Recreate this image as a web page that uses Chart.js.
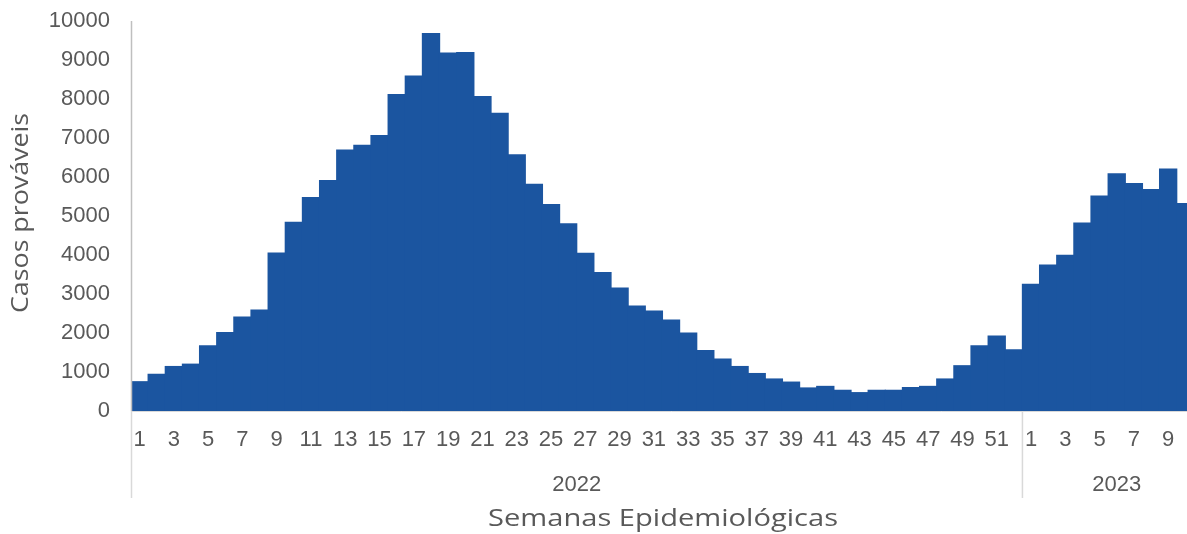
<!DOCTYPE html>
<html>
<head>
<meta charset="utf-8">
<script src="https://cdn.jsdelivr.net/npm/chart.js@4.4.1/dist/chart.umd.min.js"></script>
<style>
  html, body { margin: 0; padding: 0; background: #ffffff; overflow: hidden; width: 1187px; height: 534px; }
  #wrap { position: absolute; left: 0; top: 0; width: 1230px; height: 534px; }
  canvas { display: block; }
</style>
</head>
<body>
<div id="wrap"><canvas id="c" width="1230" height="534" style="width:1230px;height:534px"></canvas></div>
<script>
// ---- data ----
const weeks2022 = [1,2,3,4,5,6,7,8,9,10,11,12,13,14,15,16,17,18,19,20,21,22,23,24,25,26,
                   27,28,29,30,31,32,33,34,35,36,37,38,39,40,41,42,43,44,45,46,47,48,49,50,51,52];
const cases2022 = [750, 940, 1140, 1200, 1670, 2010, 2410, 2590, 4050, 4840, 5470, 5910, 6690,
                   6810, 7060, 8110, 8590, 9680, 9180, 9190, 8060, 7630, 6570, 5810, 5290, 4800,
                   4040, 3550, 3150, 2690, 2560, 2330, 2000, 1550, 1330, 1140, 960, 820, 740,
                   590, 630, 530, 470, 530, 530, 600, 630, 820, 1160, 1670, 1920, 1570];
const weeks2023 = [1,2,3,4,5,6,7,8,9,10,11];
const cases2023 = [3250, 3740, 3990, 4820, 5510, 6080, 5830, 5680, 6200, 5320, null];
const yearLabels = ["2022", "2023"];
const yTicks = [0,1000,2000,3000,4000,5000,6000,7000,8000,9000,10000];
const yTitle = "Casos prováveis";
const xTitle = "Semanas Epidemiológicas";

// ---- build ----
const labels = weeks2022.concat(weeks2023);
const values = cases2022.concat(cases2023);
const groups = [
  { label: yearLabels[0], start: 0, end: weeks2022.length - 1 },
  { label: yearLabels[1], start: weeks2022.length, end: weeks2022.length + weeks2023.length - 1 }
];

const TEXT = '#595959';
const TICK_FONT = { family: 'Liberation Sans, Arial, sans-serif', size: 22 };

function drawFitted(ctx, text, cx, cy, target) {
  const w = ctx.measureText(text).width;
  const sx = target / w;
  ctx.save();
  ctx.translate(cx, cy);
  ctx.scale(sx, 1);
  ctx.fillText(text, 0, 0);
  ctx.restore();
}

const decor = {
  id: 'decor',
  afterDraw(chart) {
    const ctx = chart.ctx;
    const x = chart.scales.x;
    const area = chart.chartArea;
    const bottomLine = 498;
    ctx.save();
    // vertical axis line
    ctx.lineWidth = 1.5;
    ctx.strokeStyle = '#BFBFBF';
    ctx.beginPath();
    ctx.moveTo(area.left + 0.5, area.top);
    ctx.lineTo(area.left + 0.5, area.bottom);
    ctx.stroke();
    // group separators
    ctx.strokeStyle = '#D9D9D9';
    const sepXs = [area.left + 0.5];
    for (let g = 1; g < groups.length; g++) {
      const xa = x.getPixelForValue(groups[g - 1].end);
      const xb = x.getPixelForValue(groups[g].start);
      sepXs.push((xa + xb) / 2);
    }
    sepXs.forEach(sx => {
      ctx.beginPath();
      ctx.moveTo(sx, area.bottom);
      ctx.lineTo(sx, bottomLine);
      ctx.stroke();
    });
    // group labels
    ctx.fillStyle = TEXT;
    ctx.font = `${TICK_FONT.size}px ${TICK_FONT.family}`;
    ctx.textAlign = 'center';
    ctx.textBaseline = 'middle';
    const half = (x.getPixelForValue(1) - x.getPixelForValue(0)) / 2;
    groups.forEach(g => {
      const cx = (x.getPixelForValue(g.start) - half + x.getPixelForValue(g.end) + half) / 2;
      ctx.fillText(g.label, cx, 485);
    });
    // x title
    ctx.font = '24px "Open Sans", sans-serif';
    drawFitted(ctx, xTitle, 663, 519, 350);
    // y title
    ctx.save();
    ctx.translate(21, 213);
    ctx.rotate(-Math.PI / 2);
    ctx.font = '24px "Open Sans", sans-serif';
    drawFitted(ctx, yTitle, 0, 0, 200);
    ctx.restore();
    ctx.restore();
  }
};

new Chart(document.getElementById('c'), {
  type: 'bar',
  data: {
    labels: labels,
    datasets: [{
      data: values,
      backgroundColor: '#1B55A0',
      borderWidth: 0,
      inflateAmount: 0.6,
      barPercentage: 1.0,
      categoryPercentage: 1.0
    }]
  },
  options: {
    responsive: false,
    animation: false,
    devicePixelRatio: 1,
    layout: { padding: { top: 21, right: 17, bottom: 0, left: 0 } },
    plugins: { legend: { display: false }, tooltip: { enabled: false }, title: { display: false } },
    scales: {
      x: {
        grid: { display: false, drawTicks: false },
        border: { display: true, color: '#D9D9D9', width: 1 },
        ticks: {
          autoSkip: false,
          maxRotation: 0,
          minRotation: 0,
          padding: 16,
          color: TEXT,
          font: TICK_FONT,
          callback: function (val, idx) { const w = labels[idx]; return (w % 2 === 1) ? String(w) : ''; }
        },
        afterFit: function (s) { s.height = 534 - 411; }
      },
      y: {
        min: yTicks[0],
        max: yTicks[yTicks.length - 1],
        grid: { display: false, drawTicks: false },
        border: { display: false },
        afterBuildTicks: function (s) { s.ticks = yTicks.map(v => ({ value: v })); },
        ticks: {
          padding: 21,
          color: TEXT,
          font: TICK_FONT,
          callback: v => String(v)
        },
        afterFit: function (s) { s.width = 131; s.paddingTop = 0; s.paddingBottom = 0; }
      }
    }
  },
  plugins: [decor]
});
</script>
</body>
</html>
